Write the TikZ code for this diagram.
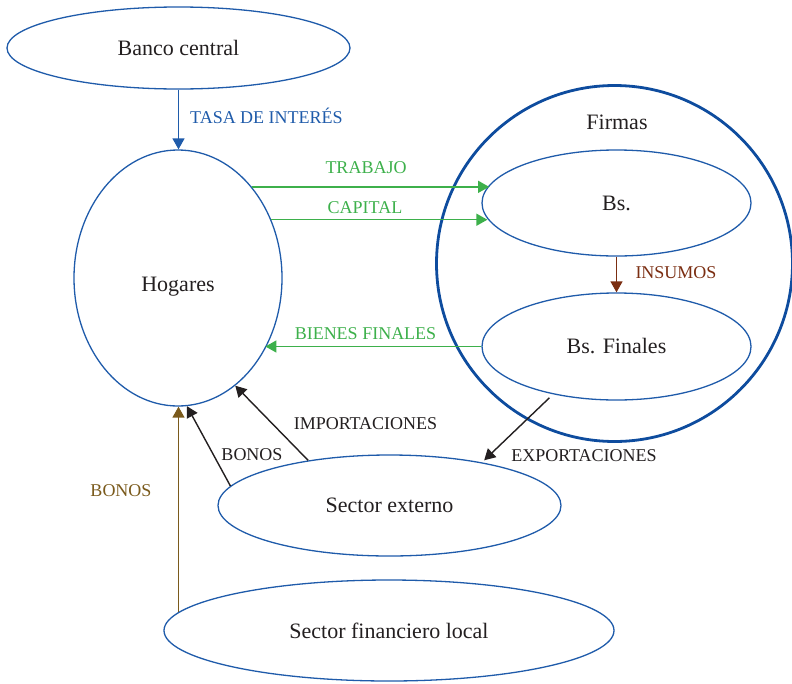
\documentclass[tikz,border=0pt]{standalone}
\usepackage{fontspec}
\setmainfont{Liberation Serif}
\usetikzlibrary{shapes.geometric,arrows.meta}
\definecolor{eblue}{HTML}{1F5BAA}
\definecolor{fblue}{HTML}{0E4C9E}
\definecolor{fgreen}{HTML}{3DB04B}
\definecolor{fred}{HTML}{7B2E12}
\definecolor{fgold}{HTML}{7A5A1C}
\definecolor{ftext}{HTML}{231F20}
\tikzset{
  ell/.style={ellipse, draw=eblue, line width=1.3pt, inner sep=0pt, text=ftext,
    font=\fontsize{22}{26}\selectfont},
  lbl/.style={inner sep=0pt, font=\fontsize{18}{21}\selectfont},
  arr/.style={line width=1.4pt, -{Triangle[length=11pt,width=12pt]}},
}
\begin{document}
\begin{tikzpicture}[x=1pt,y=-1pt]
\useasboundingbox (0,0) rectangle (792,683);
% nodes
\node[ell, minimum width=343pt, minimum height=82pt] (bc) at (178.5,48) {Banco central};
\node[ell, minimum width=208pt, minimum height=256pt,
      label={[ell,draw=none,yshift=-9pt]center:Hogares}] (hog) at (178,278) {};
\node[circle, draw=fblue, line width=2.8pt, minimum size=356pt, inner sep=0pt] (fir) at (614.5,263.5) {};
\node[inner sep=0pt, text=ftext, font=\fontsize{22}{26}\selectfont] (firt) at (617,122) {Firmas};
\node[ell, minimum width=269pt, minimum height=106pt] (bs) at (616.5,203) {Bs.};
\node[ell, minimum width=269pt, minimum height=107pt] (bsf) at (616.5,346.5) {Bs. Finales};
\node[ell, minimum width=343pt, minimum height=101pt] (sex) at (389.5,505.5) {Sector externo};
\node[ell, minimum width=450pt, minimum height=101pt] (sfl) at (389,630.5) {Sector financiero local};
% connectors
\draw[arr, eblue] (bc.south) -- (bc.south |- hog.north);
\draw[arr, fgreen] (hog.51.5) -- (hog.51.5 -| bs.172.6);
\draw[arr, fgreen] (hog.32) -- (hog.32 -| bs.187.6);
\draw[arr, fred] (bs.south) -- (bsf.north);
\draw[arr, fgreen] (bsf.west) -- (bsf.west -| hog.321.8);
\draw[arr, ftext, shorten <=5pt, shorten >=3pt] (bsf.217.5) -- (sex.25.2);
\draw[arr, ftext] (sex.151.9) -- (hog.298);
\draw[arr, ftext] (sex.173.06) -- (hog.274.5);
\draw[arr, fgold] (sfl.175.26) -- (sfl.175.26 |- hog.south);
% labels
\node[lbl, text=eblue, anchor=west] (l1) at (190,116) {TASA DE INTERÉS};
\node[lbl, text=fgreen] (l2) at (366,168) {TRABAJO};
\node[lbl, text=fgreen] (l3) at (365,208) {CAPITAL};
\node[lbl, text=fred] (l4) at (676,273) {INSUMOS};
\node[lbl, text=fgreen] (l5) at (365.5,334) {BIENES FINALES};
\node[lbl, text=ftext] (l6) at (365.5,424) {IMPORTACIONES};
\node[lbl, text=ftext] (l7) at (252,454.5) {BONOS};
\node[lbl, text=ftext] (l8) at (584,456) {EXPORTACIONES};
\node[lbl, text=fgold] (l9) at (121,491) {BONOS};
\end{tikzpicture}
\end{document}
